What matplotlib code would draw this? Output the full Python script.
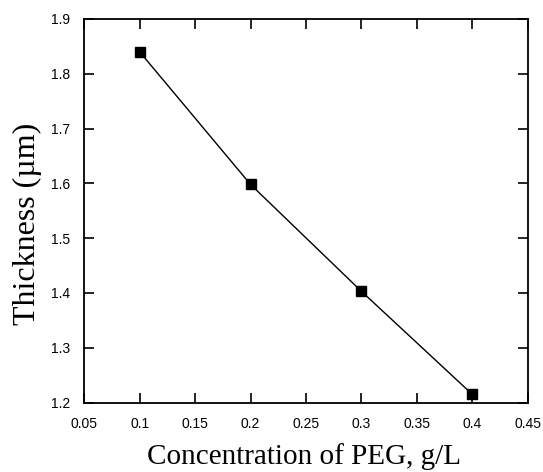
import matplotlib
matplotlib.use("Agg")
import matplotlib.pyplot as plt
import numpy as np

# Data
peg_conc = [0.1, 0.2, 0.3, 0.4]
thickness = [1.840, 1.598, 1.403, 1.215]

x_ticks = [0.05, 0.1, 0.15, 0.2, 0.25, 0.3, 0.35, 0.4, 0.45]
x_tick_labels = ["0.05", "0.1", "0.15", "0.2", "0.25", "0.3", "0.35", "0.4", "0.45"]
y_ticks = [1.2, 1.3, 1.4, 1.5, 1.6, 1.7, 1.8, 1.9]

fig = plt.figure(figsize=(5.43, 4.72), dpi=100)
ax = fig.add_axes([0.155, 0.147, 0.817, 0.813])

ax.plot(peg_conc, thickness, color="black", linewidth=1.0,
        marker="s", markersize=7, markerfacecolor="black")

ax.set_xlim(0.05, 0.45)
ax.set_ylim(1.2, 1.9)
ax.set_xticks(x_ticks)
ax.set_xticklabels(x_tick_labels)
ax.set_yticks(y_ticks)

ax.tick_params(direction="in", length=7, width=1.2, top=True, right=True,
               labelsize=10, pad=10)
for lab in ax.get_xticklabels() + ax.get_yticklabels():
    lab.set_family("Liberation Sans")

for spine in ax.spines.values():
    spine.set_linewidth(1.3)

ax.set_xlabel("Concentration of PEG, g/L", family="Liberation Serif", fontsize=21)
ax.set_ylabel("Thickness (\u00b5m)", family="Liberation Serif", fontsize=23)
ax.xaxis.set_label_coords(0.495, -0.105)
ax.yaxis.set_label_coords(-0.095, 0.465)

fig.savefig("out.png", dpi=100)
